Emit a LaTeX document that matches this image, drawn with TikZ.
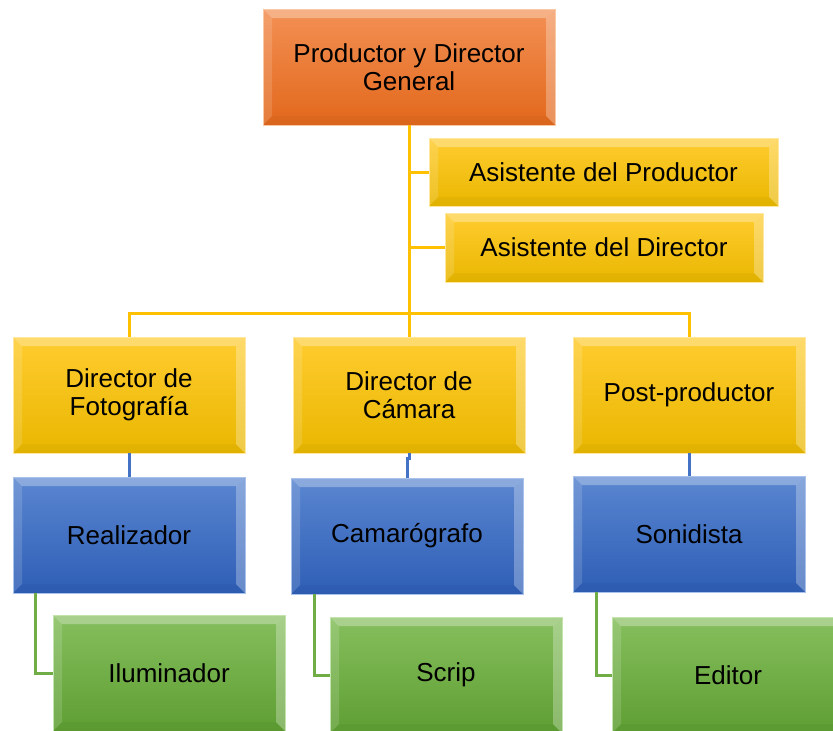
\documentclass[tikz,border=0pt]{standalone}
\usepackage{fontspec}
\setmainfont{Liberation Sans}
\begin{document}
\begin{tikzpicture}[x=1pt,y=1pt,
  bevel/.style={path picture={
    \fill[white,opacity=0.30] (path picture bounding box.north west) -- (path picture bounding box.north east)
      -- ([shift={(-9pt,-9pt)}]path picture bounding box.north east) -- ([shift={(9pt,-9pt)}]path picture bounding box.north west) -- cycle;
    \fill[white,opacity=0.14] (path picture bounding box.north west) -- ([shift={(9pt,-9pt)}]path picture bounding box.north west)
      -- ([shift={(9pt,9pt)}]path picture bounding box.south west) -- (path picture bounding box.south west) -- cycle;
    \fill[white,opacity=0.28] (path picture bounding box.north east) -- ([shift={(-9pt,-9pt)}]path picture bounding box.north east)
      -- ([shift={(-9pt,9pt)}]path picture bounding box.south east) -- (path picture bounding box.south east) -- cycle;
    \fill[black,opacity=0.03] (path picture bounding box.south west) -- (path picture bounding box.south east)
      -- ([shift={(-9pt,9pt)}]path picture bounding box.south east) -- ([shift={(9pt,9pt)}]path picture bounding box.south west) -- cycle;
  }},
  box/.style={rectangle, bevel, align=center, text=black, inner sep=0pt, line width=0.8pt,
    font=\fontsize{26}{28}\selectfont, minimum width=232pt, minimum height=116pt},
  orangebox/.style={box, top color=orgtop, bottom color=orgbot, draw=orgedge},
  yellowbox/.style={box, top color=ylwtop, bottom color=ylwbot, draw=ylwedge},
  bluebox/.style={box, top color=blutop, bottom color=blubot, draw=bluedge},
  greenbox/.style={box, top color=grntop, bottom color=grnbot, draw=grnedge},
  ylwline/.style={draw=ylwline, line width=3pt},
  bluline/.style={draw=bluline, line width=3pt},
  grnline/.style={draw=grnline, line width=3pt}
]
\definecolor{orgtop}{HTML}{F39054}
\definecolor{orgbot}{HTML}{E2681C}
\definecolor{orgedge}{HTML}{F9C8A4}
\definecolor{ylwtop}{HTML}{FFCC30}
\definecolor{ylwbot}{HTML}{E9B700}
\definecolor{ylwedge}{HTML}{FFE7A0}
\definecolor{blutop}{HTML}{5A86D0}
\definecolor{blubot}{HTML}{2E5EB6}
\definecolor{bluedge}{HTML}{A9C2EC}
\definecolor{grntop}{HTML}{86BF5E}
\definecolor{grnbot}{HTML}{5E9E32}
\definecolor{grnedge}{HTML}{C4E4AE}
\definecolor{ylwline}{HTML}{FFC000}
\definecolor{bluline}{HTML}{4472C4}
\definecolor{grnline}{HTML}{70AD47}

\clip (0,0) rectangle (833,-731);
\fill[white] (0,0) rectangle (833,-731);

\coordinate (hub) at (409,-313);

\node[orangebox, minimum width=292pt] (top) at (409,-67) {Productor y Director\\General};
\node[yellowbox, minimum width=349pt, minimum height=68pt] (ap) at (603.5,-172) {Asistente del Productor};
\node[yellowbox, minimum width=318pt, minimum height=69pt] (ad) at (604,-247.5) {Asistente del Director};

\node[yellowbox] (df) at (129,-395) {Director de\\Fotografía};
\node[yellowbox] (dc) at (409,-395) {Director de\\Cámara};
\node[yellowbox] (pp) at (689,-395) {Post-productor};

\node[bluebox] (re) at (129,-535) {Realizador};
\node[bluebox] (ca) at (407,-536) {Camarógrafo};
\node[bluebox] (so) at (689,-534) {Sonidista};

\node[greenbox] (il) at (169,-673) {Iluminador};
\node[greenbox] (sc) at (446,-675) {Scrip};
\node[greenbox] (ed) at (728,-675) {Editor};

\draw[ylwline] (top.south) -- (hub);
\draw[ylwline] (top.south |- ap.west) -- (ap.west);
\draw[ylwline] (top.south |- ad.west) -- (ad.west);
\draw[ylwline] (df.north) -- (df.north |- hub) -- (pp.north |- hub) -- (pp.north);
\draw[ylwline] (hub) -- (dc.north);

\draw[bluline] (df.south) -- (re.north);
\draw[bluline] (dc.south) -- ++(0,-5pt) -| (ca.north);
\draw[bluline] (pp.south) -- (so.north);

\draw[grnline] ([xshift=23pt]re.south west) |- (il.west);
\draw[grnline] ([xshift=24pt]ca.south west) |- (sc.west);
\draw[grnline] ([xshift=24pt]so.south west) |- (ed.west);
\end{tikzpicture}
\end{document}
